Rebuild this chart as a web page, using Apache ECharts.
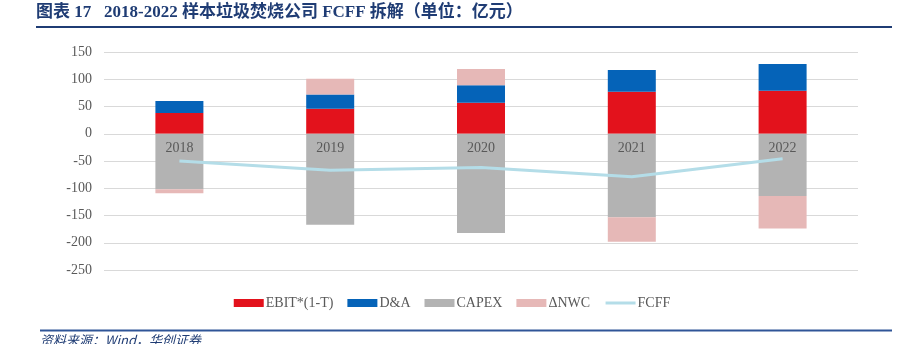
<!DOCTYPE html>
<html><head><meta charset="utf-8">
<script src="https://cdn.jsdelivr.net/npm/echarts@6/dist/echarts.min.js"></script>
<style>html,body{margin:0;padding:0;background:#fff}#c{width:904px;height:344px}</style>
</head><body><div id="c"></div>
<script>
const categories = ['2018','2019','2020','2021','2022'];
const ebit = [38, 46, 57, 77, 79];
const da = [22, 26, 32, 40, 49];
const capex = [-102, -167, -182, -153, -114];
const dnwc = [-7, 29, 30, -45, -60];
const fcff = [-50, -67, -62, -79, -46];
const yTicks = [-250, 150, 50];

const chart = echarts.init(document.getElementById('c'));
const serif = '"Liberation Serif","Times New Roman",serif';
const titleColor = '#1F3C74';
chart.setOption({
  animation: false,
  textStyle: {fontFamily: serif},
  graphic: [
    {type:'text', left:36, top:4, style:{text:'图表 17   2018-2022 样本垃圾焚烧公司 FCFF 拆解（单位：亿元）', font:'bold 17px "Liberation Serif","Noto Sans CJK SC",serif', fill:titleColor}},
    {type:'rect', shape:{x:36, y:26, width:856, height:2}, style:{fill:titleColor}},
    {type:'rect', shape:{x:40, y:329.5, width:852, height:2}, style:{fill:'#2F5597'}},
    {type:'text', left:40, top:334, style:{text:'资料来源：Wind，华创证券', font:'italic 13px "Noto Sans CJK SC",serif', fill:titleColor}}
  ],
  legend: {
    left: 'center', top: 291, itemWidth: 30, itemHeight: 8, itemGap: 14,
    textStyle: {fontFamily: serif, fontSize: 14, color: '#595959', padding:[0,0,0,-3]},
    data: [
      {name:'EBIT*(1-T)', icon:'rect'},
      {name:'D&A', icon:'rect'},
      {name:'CAPEX', icon:'rect'},
      {name:'ΔNWC', icon:'rect'},
      {name:'FCFF', itemStyle:{color:'rgba(0,0,0,0)', borderWidth:0}, lineStyle:{color:'#B4DDE8', width:3}}
    ]
  },
  grid: {left: 104, right: 46, top: 52, bottom: 74},
  xAxis: {
    type: 'category', data: categories,
    axisLine: {show: false}, axisTick: {show: false},
    axisLabel: {show: false}
  },
  yAxis: {
    type: 'value', min: yTicks[0], max: yTicks[1], interval: yTicks[2],
    axisLine: {show:false}, axisTick:{show:false},
    axisLabel: {color:'#595959', fontSize: 14, fontFamily: serif, margin: 12},
    splitLine: {lineStyle: {color: '#d9d9d9', width: 1}}
  },
  series: [
    {name:'EBIT*(1-T)', type:'bar', stack:'a', barWidth:48, data: ebit, itemStyle:{color:'#E3121C'}},
    {name:'D&A', type:'bar', stack:'a', data: da, itemStyle:{color:'#0563B8'}},
    {name:'CAPEX', type:'bar', stack:'a', data: capex, itemStyle:{color:'#B3B3B3'},
      label:{show:true, position:'insideTop', distance:8, formatter:'{b}', color:'#595959', fontSize:14, fontFamily: serif}},
    {name:'ΔNWC', type:'bar', stack:'a', data: dnwc, itemStyle:{color:'#E6B8B7'}},
    {name:'FCFF', type:'line', data: fcff, symbol:'none', z: 12, lineStyle:{color:'#B4DDE8', width:3}, itemStyle:{color:'#B4DDE8'}}
  ]
});
</script></body></html>
